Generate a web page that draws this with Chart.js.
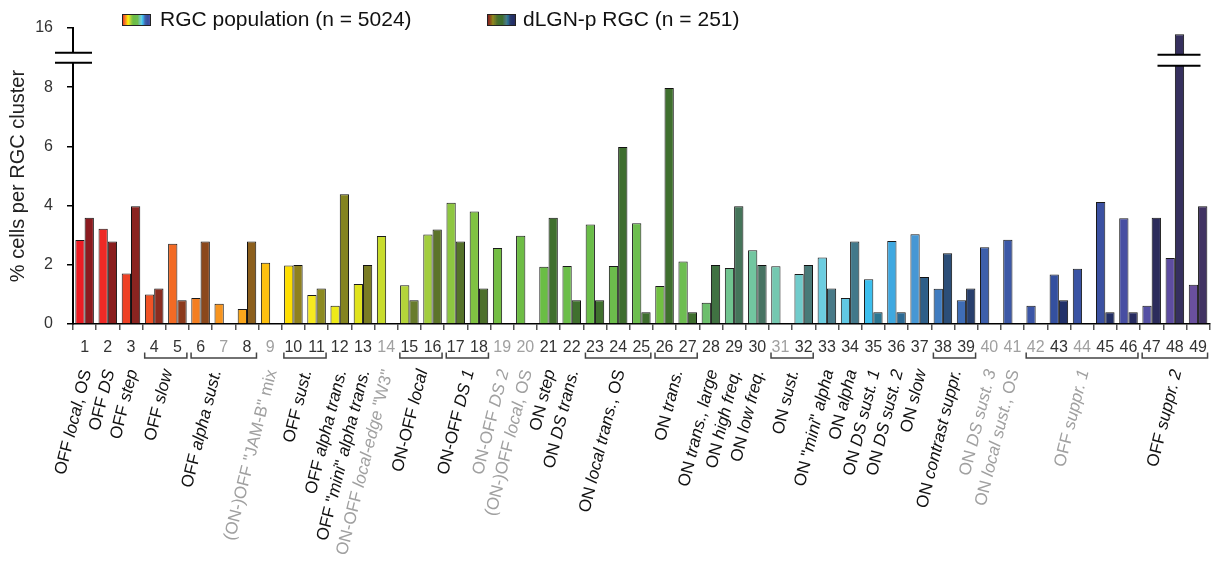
<!DOCTYPE html>
<html>
<head>
<meta charset="utf-8">
<script src="https://cdn.jsdelivr.net/npm/chart.js@4.4.1/dist/chart.umd.min.js"></script>
<style>
  html, body { margin: 0; padding: 0; background: #fff; }
  canvas { display: block; }
</style>
</head>
<body>
<canvas id="chart" width="1215" height="565"></canvas>
<script>
// Clusters (x axis)
const clusters = ['1','2','3','4','5','6','7','8','9','10','11','12','13','14','15','16','17','18','19','20',
  '21','22','23','24','25','26','27','28','29','30','31','32','33','34','35','36','37','38','39','40',
  '41','42','43','44','45','46','47','48','49'];
// clusters with grey numbers
const greyClusters = ['7','9','14','19','20','31','40','41','42','44'];

// % cells per cluster
const rgcPopulation = [2.84, 3.22, 1.71, 1.00, 2.71, 0.88, 0.68, 0.51, 2.07, 1.98,
  0.98, 0.62, 1.35, 2.97, 1.31, 3.02, 4.10, 3.80, 2.57, 2.98,
  1.93, 1.96, 3.36, 1.96, 3.40, 1.28, 2.11, 0.72, 1.89, 2.49,
  1.95, 1.69, 2.25, 0.88, 1.51, 2.80, 3.03, 1.19, 0.80, 2.59,
  2.85, 0.62, 1.67, 1.87, 4.12, 3.57, 0.62, 2.23, 1.33];
const dlgnRgc = [3.59, 2.79, 3.98, 1.20, 0.80, 2.79, 0, 2.79, 0, 1.99,
  1.20, 4.38, 1.99, 0, 0.80, 3.19, 2.79, 1.20, 0, 0,
  3.59, 0.80, 0.80, 5.98, 0.40, 7.97, 0.40, 1.99, 3.98, 1.99,
  0, 1.99, 1.20, 2.79, 0.40, 0.40, 1.59, 2.39, 1.20, 0,
  0, 0, 0.80, 0, 0.40, 0.40, 3.59, 15.14, 3.98];

// y axis
const yTicks = [0, 2, 4, 6, 8, 16];

// cluster names under the axis (_..._ = italic), position = cluster number
const typeNames = ['OFF _local_, OS', 'OFF _DS_', 'OFF _step_', 'OFF _slow_', 'OFF _alpha sust._',
  '(ON-)OFF "JAM-B" mix', 'OFF _sust._', 'OFF _alpha trans._', 'OFF "_mini_" _alpha trans._',
  'ON-OFF _local-edge_ "W3"', 'ON-OFF _local_', 'ON-OFF _DS 1_', 'ON-OFF _DS 2_', '(ON-)OFF _local_, OS',
  'ON _step_', 'ON _DS trans._', 'ON _local trans._, OS', 'ON _trans._', 'ON _trans., large_',
  'ON _high freq._', 'ON _low freq._', 'ON _sust._', 'ON "_mini_" _alpha_', 'ON _alpha_',
  'ON _DS sust. 1_', 'ON _DS sust. 2_', 'ON _slow_', 'ON _contrast suppr._', 'ON _DS sust. 3_',
  'ON _local sust._, OS', 'OFF _suppr. 1_', 'OFF _suppr. 2_'];
const typePositions = [1, 2, 3, 4.5, 6.6, 9, 10.5, 12, 13, 14, 15.5, 17.5, 19, 20, 21, 22, 24, 26.5,
  28, 29, 30, 31.5, 33, 34, 35, 36, 37, 38.5, 40, 41, 44, 48];
const typeGrey = [false, false, false, false, false, true, false, false, false, true, false, false, true, true,
  false, false, false, false, false, false, false, false, false, false, false, false, false, false, true,
  true, true, false];
// brackets under the numbers
const groups = [[4, 5], [6, 8], [10, 11], [15, 16], [17, 18], [23, 25], [26, 27], [31, 32], [38, 39], [42, 46], [47, 49]];

// bar colours
const popColors = ['#ec1c24','#ee2a26','#ee4024','#f05326','#f26a24','#f47f22','#f7941e','#f9a61c','#fdc010','#fede00',
  '#f6e920','#eeea18','#e0e31c','#c8dc2c','#b4d43a','#a2cd3e','#8ec641','#80c242','#74be44','#6ebd45',
  '#6abd45','#6cbe4a','#6abd48','#6cbd4c','#6dbe4e','#72c042','#6ebd52','#6cbf6c','#70c490','#72c6a0',
  '#74c8b0','#70cbcb','#6ccde0','#60c8e4','#3cbfee','#3fa8e0','#4697d4','#407cc0','#3f6db6','#3d5fab',
  '#3c58a6','#3b55a6','#34509f','#3a53a4','#3b51a2','#474ea2','#5450a4','#5e4da0','#6a509e'];
const dlgnColors = ['#8b1a1f','#8a1e1e','#8a2420','#8a2c20','#8b3a1c','#8b481c','#8b561c','#8c5f1c','#8e701c','#8f801e',
  '#8c8a22','#848420','#7a7c24','#707c28','#687b2c','#5c7429','#557229','#4d702b','#46702c','#42702e',
  '#40702e','#40702e','#40702e','#3e6e2e','#3e6e2e','#3f6f2e','#3f6f2e','#407242','#45745a','#477362',
  '#48766e','#487a78','#487a88','#42788a','#2c7590','#2c6a94','#2e5e88','#2c4e78','#283f6c','#27396a',
  '#25356a','#23336a','#22316a','#232f67','#222e64','#272c60','#2c2c5c','#36305e','#403262'];

const FONT = '"Liberation Sans", Arial, sans-serif';
const Y_BREAK = 8;
const LOWER_SHARE = 0.8;

// y scale with a break above 8
class BrokenLinearScale extends Chart.LinearScale {
  getPixelForValue(value) {
    let d;
    if (value <= Y_BREAK) d = value / Y_BREAK * LOWER_SHARE;
    else d = LOWER_SHARE + (value - Y_BREAK) / (this.max - Y_BREAK) * (1 - LOWER_SHARE);
    return this.getPixelForDecimal(d);
  }
  getValueForPixel(pixel) {
    const d = this.getDecimalForPixel(pixel);
    if (d <= LOWER_SHARE) return d / LOWER_SHARE * Y_BREAK;
    return Y_BREAK + (d - LOWER_SHARE) / (1 - LOWER_SHARE) * (this.max - Y_BREAK);
  }
}
BrokenLinearScale.id = 'brokenLinear';
BrokenLinearScale.defaults = Chart.LinearScale.defaults;
Chart.register(BrokenLinearScale);

function drawTypeName(ctx, text, x, y, color) {
  const parts = text.split('_');
  ctx.save();
  ctx.translate(x, y);
  ctx.rotate(-76 * Math.PI / 180);
  ctx.fillStyle = color;
  ctx.textBaseline = 'middle';
  ctx.textAlign = 'left';
  const fonts = parts.map((p, i) => (i % 2 ? 'italic ' : '') + '17px ' + FONT);
  const widths = parts.map((p, i) => { ctx.font = fonts[i]; return ctx.measureText(p).width; });
  let cx = -widths.reduce((a, b) => a + b, 0);
  parts.forEach((p, i) => { ctx.font = fonts[i]; ctx.fillText(p, cx, 0); cx += widths[i]; });
  ctx.restore();
}

function breakMark(ctx, x1, x2, yA, yB) {
  ctx.fillStyle = '#fff';
  ctx.fillRect(x1, yB, x2 - x1, yA - yB);
  ctx.strokeStyle = '#000';
  ctx.lineWidth = 2;
  ctx.beginPath();
  ctx.moveTo(x1, yA); ctx.lineTo(x2, yA);
  ctx.moveTo(x1, yB); ctx.lineTo(x2, yB);
  ctx.stroke();
}

function swatch(ctx, x, y, w, h, colors) {
  const g = ctx.createLinearGradient(x, 0, x + w, 0);
  colors.forEach((c, i) => g.addColorStop(i / (colors.length - 1), c));
  ctx.fillStyle = g;
  ctx.fillRect(x, y, w, h);
  ctx.strokeStyle = '#222';
  ctx.lineWidth = 1;
  ctx.strokeRect(x + 0.5, y + 0.5, w - 1, h - 1);
}

const extras = {
  id: 'extras',
  afterDraw(chart) {
    const ctx = chart.ctx;
    const xs = chart.scales.x, ys = chart.scales.y;
    ctx.save();

    // axis breaks
    const ax = chart.chartArea.left;
    breakMark(ctx, ax - 18, ax + 19, ys.getPixelForValue(11.3), ys.getPixelForValue(12.65));
    const meta = chart.getDatasetMeta(1);
    const bar = meta.data[47];
    breakMark(ctx, bar.x - 22, bar.x + 21, ys.getPixelForValue(10.9), ys.getPixelForValue(12.4));

    // brackets
    ctx.strokeStyle = '#444';
    ctx.lineWidth = 1.5;
    groups.forEach(g => {
      const x1 = xs.getPixelForValue(g[0] - 1) - 9.5;
      const x2 = xs.getPixelForValue(g[1] - 1) + 9.5;
      ctx.beginPath();
      ctx.moveTo(x1, 352.5); ctx.lineTo(x1, 358); ctx.lineTo(x2, 358); ctx.lineTo(x2, 352.5);
      ctx.stroke();
    });

    // type names
    typeNames.forEach((t, i) => {
      const x = xs.getPixelForValue(typePositions[i] - 1);
      drawTypeName(ctx, t, x + 2, 370, typeGrey[i] ? '#a0a0a0' : '#111');
    });

    // legend
    swatch(ctx, 122, 14, 29, 12, popColors);
    swatch(ctx, 487, 14, 29, 12, dlgnColors);
    ctx.fillStyle = '#111';
    ctx.font = '21px ' + FONT;
    ctx.textBaseline = 'middle';
    ctx.textAlign = 'left';
    ctx.fillText('RGC population (n = 5024)', 160, 20);
    ctx.fillText('dLGN-p RGC (n = 251)', 523, 20);

    ctx.restore();
  }
};

new Chart(document.getElementById('chart'), {
  type: 'bar',
  data: {
    labels: clusters,
    datasets: [{
      label: 'RGC population (n = 5024)',
      data: rgcPopulation,
      backgroundColor: popColors,
      borderColor: '#1a1a1a',
      borderWidth: 1
    }, {
      label: 'dLGN-p RGC (n = 251)',
      data: dlgnRgc,
      backgroundColor: dlgnColors,
      borderColor: '#111',
      borderWidth: 1
    }]
  },
  options: {
    responsive: false,
    animation: false,
    devicePixelRatio: 1,
    layout: { padding: { top: 28, right: 4, left: 0, bottom: 0 } },
    plugins: { legend: { display: false }, tooltip: { enabled: false } },
    datasets: { bar: { categoryPercentage: 0.8, barPercentage: 1.0 } },
    scales: {
      x: {
        grid: { drawOnChartArea: false, drawTicks: true, tickLength: 6, color: '#555', lineWidth: 1.5 },
        border: { display: true, color: '#000', width: 1.5 },
        ticks: {
          autoSkip: false, maxRotation: 0, padding: 8,
          font: { family: FONT, size: 16 },
          color: c => greyClusters.includes(clusters[c.index]) ? '#a0a0a0' : '#333'
        },
        afterFit: s => { s.height = 241; }
      },
      y: {
        type: 'brokenLinear',
        min: 0, max: 16,
        afterBuildTicks: s => { s.ticks = yTicks.map(v => ({ value: v })); },
        grid: { drawOnChartArea: false, drawTicks: true, tickLength: 6, color: '#000', lineWidth: 1.5 },
        border: { display: true, color: '#000', width: 2 },
        ticks: { padding: 14, font: { family: FONT, size: 16 }, color: '#333', callback: v => String(v) },
        title: { display: true, text: '% cells per RGC cluster', font: { family: FONT, size: 20 }, color: '#222', padding: { top: 6, bottom: 0 } },
        afterFit: s => { s.width = 73; }
      }
    }
  },
  plugins: [extras]
});
</script>
</body>
</html>
